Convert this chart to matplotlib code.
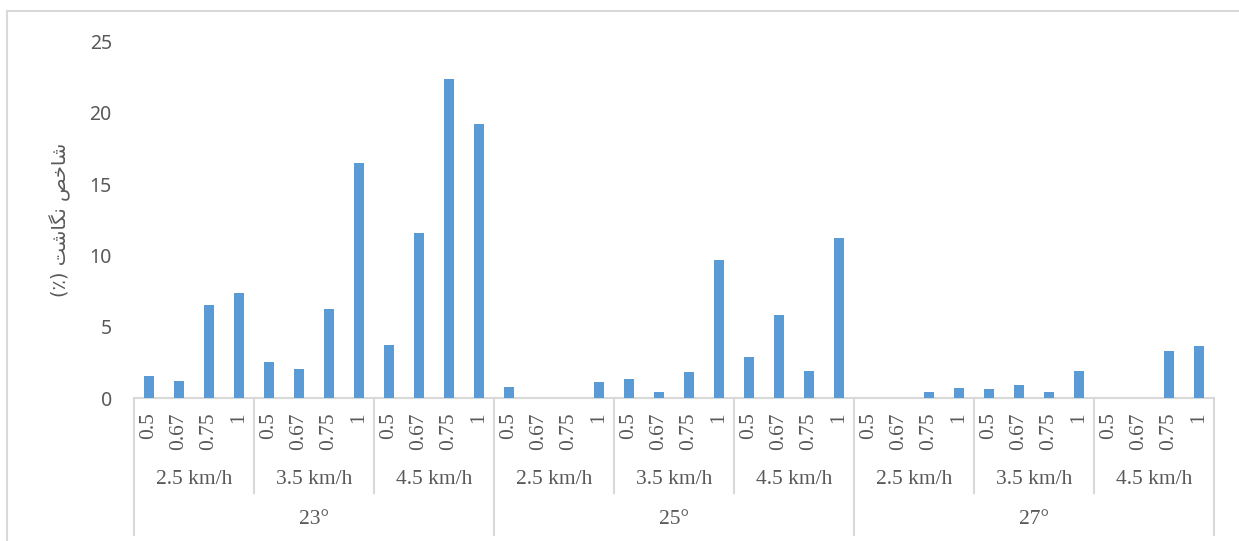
import numpy as np
import matplotlib
matplotlib.use('Agg')
import matplotlib.pyplot as plt
from matplotlib.patches import Rectangle

# data
temps = ['23°', '25°', '27°']
speeds = ['2.5 km/h', '3.5 km/h', '4.5 km/h']
ratios = ['0.5', '0.67', '0.75', '1']
t23 = [1.56, 1.19, 6.53, 7.37, 2.5, 2.01, 6.25, 16.5, 3.72, 11.56, 22.36, 19.23]
t25 = [0.77, 0, 0, 1.12, 1.35, 0.42, 1.85, 9.7, 2.86, 5.82, 1.87, 11.2]
t27 = [0, 0, 0.42, 0.68, 0.65, 0.89, 0.4, 1.87, 0, 0, 3.32, 3.63]

# y label: "شاخص نگاشت (٪)" written in shaped visual order
ylab = '(\u066a) \ufe96\ufeb7\ufe8e\ufb95\ufee7 \ufeba\ufea7\ufe8e\ufeb7'

values = np.array(t23 + t25 + t27)
n_r = len(ratios)
n_s = len(speeds)
x = np.arange(len(values))

grey = '#595959'
line = '#d9d9d9'

fig = plt.figure(figsize=(12.39, 5.41), dpi=100)
ax = fig.add_axes([134/1239, 1-398/541, 1080/1239, (398-41.7)/541])

ax.bar(x, values, width=0.31, color='#5b9bd5', zorder=3)
ax.set_xlim(-0.5, len(values)-0.5)
ax.set_ylim(0, 25)
ax.set_yticks(np.arange(0, 26, 5))
ax.tick_params(axis='y', length=0, pad=16, labelsize=14, labelcolor=grey)
for lab in ax.get_yticklabels():
    lab.set_family('Noto Sans')
ax.set_xticks([])
for s in ['top', 'right', 'left']:
    ax.spines[s].set_visible(False)
ax.spines['bottom'].set_color(line)
ax.spines['bottom'].set_linewidth(1.5)

ax.set_ylabel(ylab, family='DejaVu Sans', fontsize=14, color=grey, labelpad=13)

tr = ax.get_xaxis_transform()
serif = 'Liberation Serif'
# ratio labels
for i in range(len(values)):
    ax.text(x[i], -0.04, ratios[i % n_r], rotation=90, ha='center', va='top',
            transform=tr, family=serif, fontsize=15.5, color=grey)
# speed labels and short separators
for g in range(len(temps) * n_s):
    c = g * n_r + (n_r - 1) / 2
    ax.text(c, -0.23, speeds[g % n_s], ha='center', va='center',
            transform=tr, family=serif, fontsize=15.5, color=grey)
    left = g * n_r - 0.5
    if g % n_s != 0:
        ax.plot([left, left], [0, -0.267], transform=tr, color=line, lw=1.5, clip_on=False)
# temperature labels and long separators
for t in range(len(temps)):
    c = t * n_r * n_s + (n_r * n_s - 1) / 2
    ax.text(c, -0.342, temps[t], ha='center', va='center',
            transform=tr, family=serif, fontsize=15.5, color=grey)
for t in range(len(temps) + 1):
    left = t * n_r * n_s - 0.5
    ax.plot([left, left], [0, -0.385], transform=tr, color=line, lw=1.5, clip_on=False)

# chart frame (cropped on right and bottom)
fig.patches.append(Rectangle((7/1239, -0.1), 2, 1 - 11/541 + 0.1, transform=fig.transFigure,
                             fill=False, edgecolor=line, lw=1.5))

fig.savefig('out.png', dpi=100)
